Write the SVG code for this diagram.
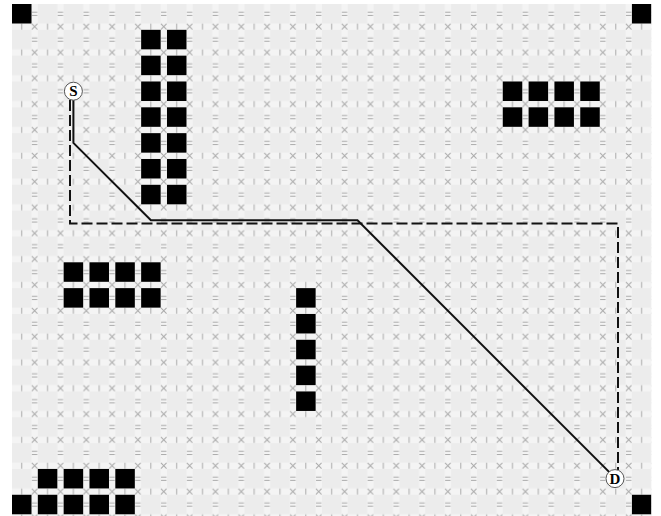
<svg xmlns="http://www.w3.org/2000/svg" width="661" height="516" viewBox="0 0 661 516">
<style>
.b{fill:#000}
.tk{stroke:#aaaaaa;stroke-width:1;fill:none}
.node circle{fill:#fff;stroke:#555;stroke-width:1}
.node text{font-family:"Liberation Serif",serif;font-size:15px;font-weight:bold;fill:#000;text-anchor:middle}
.solid{fill:none;stroke:#111;stroke-width:2}
.dash{fill:none;stroke:#111;stroke-width:2;stroke-dasharray:11,4}
</style>
<defs>
<pattern id="grid" x="12" y="4" width="25.83" height="25.83" patternUnits="userSpaceOnUse">
<rect width="25.83" height="25.83" fill="#f4f4f4"/>
<rect width="19.4" height="19.4" fill="#ececec"/>
<path class="tk" d="M19.8,19.8 L25.4,25.4 M25.4,19.8 L19.8,25.4"/>
<path class="tk" d="M9.7,19.6 L9.7,25.6"/>
<path class="tk" d="M19.9,8.2 L25.3,8.2 M19.9,11.4 L25.3,11.4"/>
</pattern>
<clipPath id="area"><rect x="12" y="4" width="639.4" height="512"/></clipPath>
</defs>
<rect width="661" height="516" fill="#fff"/>
<rect x="12" y="4" width="639.4" height="512" fill="url(#grid)"/>
<g id="obstacles" clip-path="url(#area)">
<g id="corners">
<rect class="b" x="12" y="4" width="19.5" height="19.5"/>
<rect class="b" x="631.92" y="4" width="19.5" height="19.5"/>
<rect class="b" x="631.92" y="494.77" width="19.5" height="19.5"/>
</g>
<g id="column-block">
<rect class="b" x="141.15" y="29.83" width="19.5" height="19.5"/><rect class="b" x="166.98" y="29.83" width="19.5" height="19.5"/>
<rect class="b" x="141.15" y="55.66" width="19.5" height="19.5"/><rect class="b" x="166.98" y="55.66" width="19.5" height="19.5"/>
<rect class="b" x="141.15" y="81.49" width="19.5" height="19.5"/><rect class="b" x="166.98" y="81.49" width="19.5" height="19.5"/>
<rect class="b" x="141.15" y="107.32" width="19.5" height="19.5"/><rect class="b" x="166.98" y="107.32" width="19.5" height="19.5"/>
<rect class="b" x="141.15" y="133.15" width="19.5" height="19.5"/><rect class="b" x="166.98" y="133.15" width="19.5" height="19.5"/>
<rect class="b" x="141.15" y="158.98" width="19.5" height="19.5"/><rect class="b" x="166.98" y="158.98" width="19.5" height="19.5"/>
<rect class="b" x="141.15" y="184.81" width="19.5" height="19.5"/><rect class="b" x="166.98" y="184.81" width="19.5" height="19.5"/>
</g>
<g id="top-right-block">
<rect class="b" x="502.77" y="81.49" width="19.5" height="19.5"/><rect class="b" x="528.6" y="81.49" width="19.5" height="19.5"/><rect class="b" x="554.43" y="81.49" width="19.5" height="19.5"/><rect class="b" x="580.26" y="81.49" width="19.5" height="19.5"/>
<rect class="b" x="502.77" y="107.32" width="19.5" height="19.5"/><rect class="b" x="528.6" y="107.32" width="19.5" height="19.5"/><rect class="b" x="554.43" y="107.32" width="19.5" height="19.5"/><rect class="b" x="580.26" y="107.32" width="19.5" height="19.5"/>
</g>
<g id="left-block">
<rect class="b" x="63.66" y="262.3" width="19.5" height="19.5"/><rect class="b" x="89.49" y="262.3" width="19.5" height="19.5"/><rect class="b" x="115.32" y="262.3" width="19.5" height="19.5"/><rect class="b" x="141.15" y="262.3" width="19.5" height="19.5"/>
<rect class="b" x="63.66" y="288.13" width="19.5" height="19.5"/><rect class="b" x="89.49" y="288.13" width="19.5" height="19.5"/><rect class="b" x="115.32" y="288.13" width="19.5" height="19.5"/><rect class="b" x="141.15" y="288.13" width="19.5" height="19.5"/>
</g>
<g id="vertical-block">
<rect class="b" x="296.13" y="288.13" width="19.5" height="19.5"/>
<rect class="b" x="296.13" y="313.96" width="19.5" height="19.5"/>
<rect class="b" x="296.13" y="339.79" width="19.5" height="19.5"/>
<rect class="b" x="296.13" y="365.62" width="19.5" height="19.5"/>
<rect class="b" x="296.13" y="391.45" width="19.5" height="19.5"/>
</g>
<g id="bottom-left-block">
<rect class="b" x="37.83" y="468.94" width="19.5" height="19.5"/><rect class="b" x="63.66" y="468.94" width="19.5" height="19.5"/><rect class="b" x="89.49" y="468.94" width="19.5" height="19.5"/><rect class="b" x="115.32" y="468.94" width="19.5" height="19.5"/>
<rect class="b" x="12" y="494.77" width="19.5" height="19.5"/><rect class="b" x="37.83" y="494.77" width="19.5" height="19.5"/><rect class="b" x="63.66" y="494.77" width="19.5" height="19.5"/><rect class="b" x="89.49" y="494.77" width="19.5" height="19.5"/><rect class="b" x="115.32" y="494.77" width="19.5" height="19.5"/>
</g>
</g>
<g id="connectors">
<path class="dash" d="M70,100 L70,223.5 L618,223.5 L618,470"/>
<path class="solid" d="M73.4,99.7 L73.4,142.9 L150.9,220.3 L357.5,220.3 L615.8,478.6"/>
</g>
<g id="node-S" class="node">
<circle cx="73.4" cy="91.2" r="9"/>
<text x="73.4" y="96.4">S</text>
</g>
<g id="node-D" class="node">
<circle cx="615" cy="478.6" r="9"/>
<text x="615" y="483.8">D</text>
</g>
</svg>
